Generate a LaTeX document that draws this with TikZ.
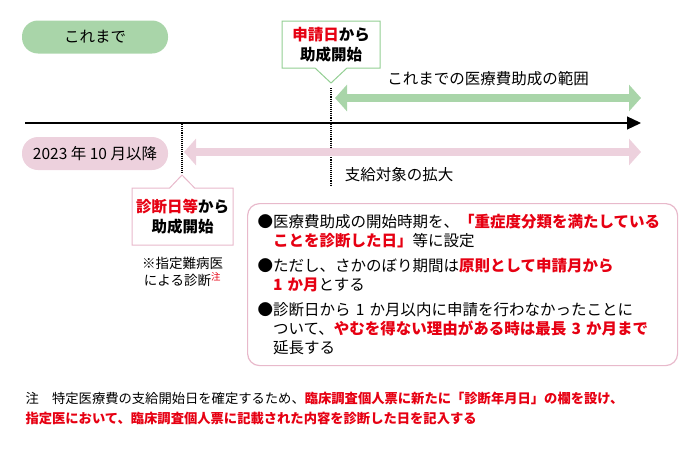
\documentclass[tikz,border=0pt]{standalone}
\usepackage{fontspec}
\setmainfont{Noto Sans CJK JP}
\usetikzlibrary{arrows.meta,positioning,shapes.callouts}
\definecolor{kgreen}{HTML}{A9D5A9}
\definecolor{kgreenline}{HTML}{93CF93}
\definecolor{kpink}{HTML}{EDD1DD}
\definecolor{kpinkline}{HTML}{E8B9CB}
\definecolor{kred}{HTML}{E60012}
\newcommand{\redtxt}[1]{\textcolor{kred}{\bfseries #1}}

\begin{document}
\begin{tikzpicture}[x=1pt,y=-1pt,every node/.style={font=\fontsize{15.5}{19}\selectfont},
pill/.style={rounded corners=16pt,minimum width=146pt,minimum height=33pt,inner sep=0pt},
callbox/.style={rectangle callout,line width=1pt,fill=white,align=center,font=\fontsize{15.5}{20}\selectfont\bfseries},
dots/.style={densely dotted,line width=1.1pt},
band/.style={line width=8pt,{Triangle[length=12pt,width=26pt]}-{Triangle[length=12pt,width=26pt]}},
infobox/.style={draw=kpinkline,line width=1.2pt,rounded corners=12pt,align=left,text width=410pt,inner xsep=10pt,minimum height=162pt}]
\useasboundingbox (0,0) rectangle (700,450);
% periods
\node[pill,fill=kgreen] (before) at (95,37) {これまで};
\node[pill,fill=kpink] (after) at (95,153.5) {2023 年 10 月以降};
% start of payment
\node[callbox,draw=kgreenline,minimum width=98pt,minimum height=47pt,callout absolute pointer={(331,83)},callout pointer width=32pt] (shinsei) at (331,44.5) {\redtxt{申請日}から\\助成開始};
\node[callbox,draw=kpinkline,minimum width=101pt,minimum height=57pt,callout absolute pointer={(182,175)},callout pointer width=25pt] (shindan) at (182.5,216.5) {\redtxt{診断日等}から\\助成開始};
\node[align=center,font=\fontsize{13.5}{17}\selectfont,below=8pt of shindan] (shitei) {※指定難病医\\による診断\textsuperscript{\textcolor{kred}{注}}};
\coordinate (s1top) at (331,88);
\coordinate (s1bot) at (331,186);
\coordinate (s2top) at (182,124);
\coordinate (s2bot) at (182,173);
\draw[dots] (s1top) -- (s1bot);
\draw[dots] (s2top) -- (s2bot);
% ranges
\coordinate (g1) at (335,98);
\coordinate (g2) at (641,98);
\coordinate (p1) at (184,152);
\coordinate (p2) at (641,152);
\draw[band,kgreen] (g1) -- (g2);
\draw[band,kpink] (p1) -- (p2);
\node (range) at (488,79) {これまでの医療費助成の範囲};
\node (kakudai) at (399,175) {支給対象の拡大};
% time axis
\coordinate (t1) at (25,123);
\coordinate (t2) at (641,123);
\draw[line width=1.2pt,-{Triangle[length=14pt,width=13pt]}] (t1) -- (t2);
% details
\node[infobox,anchor=north west] (info) at (247,203) {%
●医療費助成の開始時期を、\redtxt{「重症度分類を満たしている}\\
\hspace*{1em}\redtxt{ことを診断した日」}等に設定\\[6pt]
●ただし、さかのぼり期間は\redtxt{原則として申請月から}\\
\hspace*{1em}\redtxt{1 か月}とする\\[6pt]
●診断日から 1 か月以内に申請を行わなかったことに\\
\hspace*{1em}ついて、\redtxt{やむを得ない理由がある時は最長 3 か月まで}\\
\hspace*{1em}延長する};
% footnote
\node[anchor=west,align=left,font=\fontsize{13.3}{20}\selectfont] (note) at (22,408) {注\hspace{1em}特定医療費の支給開始日を確定するため、\redtxt{臨床調査個人票に新たに「診断年月日」の欄を設け、}\\
\redtxt{指定医において、臨床調査個人票に記載された内容を診断した日を記入する}};
\end{tikzpicture}
\end{document}
